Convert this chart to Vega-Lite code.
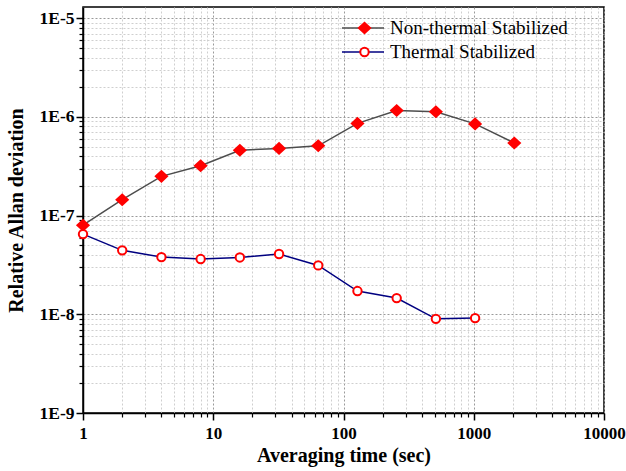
{
  "$schema": "https://vega.github.io/schema/vega-lite/v6.json",
  "width": 521,
  "height": 406,
  "autosize": "none",
  "padding": {"left": 83, "top": 7, "right": 22, "bottom": 58},
  "background": "white",
  "config": {
    "view": {"stroke": "black", "strokeWidth": 1.5},
    "font": "Liberation Serif"
  },
  "data": {
    "values": [
      {"tau": 1, "dev": 8.0e-8, "series": "Non-thermal Stabilized"},
      {"tau": 2, "dev": 1.45e-7, "series": "Non-thermal Stabilized"},
      {"tau": 4, "dev": 2.5e-7, "series": "Non-thermal Stabilized"},
      {"tau": 8, "dev": 3.2e-7, "series": "Non-thermal Stabilized"},
      {"tau": 16, "dev": 4.6e-7, "series": "Non-thermal Stabilized"},
      {"tau": 32, "dev": 4.8e-7, "series": "Non-thermal Stabilized"},
      {"tau": 64, "dev": 5.1e-7, "series": "Non-thermal Stabilized"},
      {"tau": 128, "dev": 8.6e-7, "series": "Non-thermal Stabilized"},
      {"tau": 256, "dev": 1.16e-6, "series": "Non-thermal Stabilized"},
      {"tau": 512, "dev": 1.13e-6, "series": "Non-thermal Stabilized"},
      {"tau": 1024, "dev": 8.5e-7, "series": "Non-thermal Stabilized"},
      {"tau": 2048, "dev": 5.45e-7, "series": "Non-thermal Stabilized"},
      {"tau": 1, "dev": 6.5e-8, "series": "Thermal Stabilized"},
      {"tau": 2, "dev": 4.45e-8, "series": "Thermal Stabilized"},
      {"tau": 4, "dev": 3.8e-8, "series": "Thermal Stabilized"},
      {"tau": 8, "dev": 3.63e-8, "series": "Thermal Stabilized"},
      {"tau": 16, "dev": 3.77e-8, "series": "Thermal Stabilized"},
      {"tau": 32, "dev": 4.08e-8, "series": "Thermal Stabilized"},
      {"tau": 64, "dev": 3.13e-8, "series": "Thermal Stabilized"},
      {"tau": 128, "dev": 1.72e-8, "series": "Thermal Stabilized"},
      {"tau": 256, "dev": 1.46e-8, "series": "Thermal Stabilized"},
      {"tau": 512, "dev": 9.0e-9, "series": "Thermal Stabilized"},
      {"tau": 1024, "dev": 9.15e-9, "series": "Thermal Stabilized"}
    ]
  },
  "resolve": {"axis": {"x": "independent", "y": "independent"}},
  "layer": [
    {
      "mark": {"type": "line", "strokeWidth": 1.5},
      "encoding": {
        "x": {
          "field": "tau", "type": "quantitative",
          "scale": {"type": "log", "domain": [1, 10000], "nice": false},
          "axis": {
            "orient": "bottom",
            "values": [1, 10, 100, 1000, 10000],
            "format": "d",
            "title": "Averaging time (sec)",
            "titleFont": "Liberation Serif", "titleFontSize": 20, "titleFontWeight": "bold", "titleColor": "black", "titlePadding": 4,
            "labelFont": "Liberation Serif", "labelFontSize": 17, "labelFontWeight": "bold", "labelColor": "black", "labelPadding": 5,
            "labelFlush": false, "labelOverlap": false,
            "tickSize": 7, "tickWidth": 1.5, "tickColor": "black",
            "domainColor": "black", "domainWidth": 1.5,
            "grid": true, "gridColor": "#9a9a9a", "gridDash": [2, 2], "gridWidth": 1
          }
        },
        "y": {
          "field": "dev", "type": "quantitative",
          "scale": {"type": "log", "domain": [1e-9, 1.3e-5], "nice": false},
          "axis": {
            "orient": "left",
            "values": [1e-9, 1e-8, 1e-7, 1e-6, 1e-5],
            "labelExpr": "'1E' + round(log(datum.value) / LN10)",
            "title": "Relative Allan deviation",
            "titleFont": "Liberation Serif", "titleFontSize": 20, "titleFontWeight": "bold", "titleColor": "black", "titlePadding": 13,
            "labelFont": "Liberation Serif", "labelFontSize": 17.5, "labelFontWeight": "bold", "labelColor": "black", "labelPadding": 2,
            "labelFlush": false, "labelOverlap": false,
            "tickSize": 7, "tickWidth": 1.5, "tickColor": "black",
            "domainColor": "black", "domainWidth": 1.5,
            "grid": true, "gridColor": "#9a9a9a", "gridDash": [2, 2], "gridWidth": 1
          }
        },
        "stroke": {
          "field": "series", "type": "nominal",
          "scale": {"domain": ["Non-thermal Stabilized", "Thermal Stabilized"], "range": ["#4d4d4d", "#000080"]},
          "legend": {
            "orient": "none", "legendX": 258, "legendY": 9, "title": null,
            "symbolType": "stroke", "symbolSize": 1764, "symbolStrokeWidth": 1.5,
            "clipHeight": 24, "rowPadding": 0, "padding": 0,
            "labelFont": "Liberation Serif", "labelFontSize": 19, "labelColor": "black", "labelOffset": 5, "labelLimit": 400
          }
        }
      }
    },
    {
      "mark": {"type": "point", "filled": false, "stroke": "red", "strokeWidth": 2, "size": 196, "opacity": 1},
      "encoding": {
        "x": {
          "field": "tau", "type": "quantitative",
          "axis": {
            "orient": "bottom",
            "values": [2,3,4,5,6,7,8,9,20,30,40,50,60,70,80,90,200,300,400,500,600,700,800,900,2000,3000,4000,5000,6000,7000,8000,9000],
            "labels": false, "title": null, "domain": false,
            "tickSize": 4, "tickWidth": 1.2, "tickColor": "black",
            "grid": true, "gridColor": "#cfcfcf", "gridDash": [2, 2], "gridWidth": 1
          }
        },
        "y": {
          "field": "dev", "type": "quantitative",
          "axis": {
            "orient": "left",
            "values": [2e-9,3e-9,4e-9,5e-9,6e-9,7e-9,8e-9,9e-9,2e-8,3e-8,4e-8,5e-8,6e-8,7e-8,8e-8,9e-8,2e-7,3e-7,4e-7,5e-7,6e-7,7e-7,8e-7,9e-7,2e-6,3e-6,4e-6,5e-6,6e-6,7e-6,8e-6,9e-6],
            "labels": false, "title": null, "domain": false,
            "tickSize": 4, "tickWidth": 1.2, "tickColor": "black",
            "grid": true, "gridColor": "#cfcfcf", "gridDash": [2, 2], "gridWidth": 1
          }
        },
        "fill": {
          "field": "series", "type": "nominal",
          "scale": {"range": ["red", "white"]},
          "legend": {
            "orient": "none", "legendX": 272, "legendY": 9, "title": null,
            "symbolSize": 196, "symbolStrokeWidth": 2,
            "clipHeight": 24, "rowPadding": 0, "padding": 0,
            "labelExpr": "''", "labelFontSize": 19, "labelOffset": 5
          }
        },
        "shape": {
          "field": "series", "type": "nominal",
          "scale": {"range": ["M-0.8,0L0,-0.74L0.8,0L0,0.74Z", "M0.6,0A0.6,0.6,0,1,1,-0.6,0A0.6,0.6,0,1,1,0.6,0Z"]},
          "legend": {
            "orient": "none", "legendX": 272, "legendY": 9, "title": null,
            "symbolSize": 196, "symbolStrokeWidth": 2,
            "clipHeight": 24, "rowPadding": 0, "padding": 0,
            "labelExpr": "''", "labelFontSize": 19, "labelOffset": 5
          }
        }
      }
    }
  ]
}
